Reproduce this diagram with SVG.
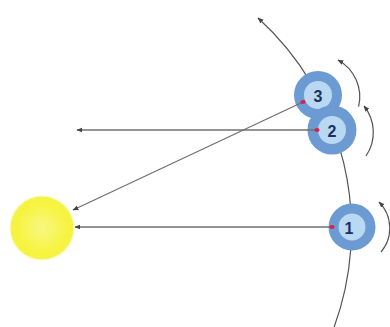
<svg xmlns="http://www.w3.org/2000/svg" width="390" height="327" viewBox="0 0 390 327">
  <defs>
    <marker id="arrow" viewBox="0 0 10 10" refX="9" refY="5" markerWidth="6" markerHeight="6" orient="auto" markerUnits="userSpaceOnUse">
      <path d="M0,1 L10,5 L0,9 Z" fill="#444"/>
    </marker>
    <radialGradient id="sunFill" cx="0.5" cy="0.5" r="0.5">
      <stop offset="0" stop-color="#f8f780"/>
      <stop offset="0.85" stop-color="#f6f43c"/>
      <stop offset="1" stop-color="#f4f250"/>
    </radialGradient>
    <style>
      .orbit { fill: none; stroke: #555; stroke-width: 1.2; }
      .spin { fill: none; stroke: #555; stroke-width: 1.2; marker-end: url(#arrow); }
      .ray { fill: none; stroke: #707070; stroke-width: 1.3; marker-end: url(#arrow); }
      .outer { fill: #6b9bd2; }
      .inner { fill: #b9d8f2; }
      .dot { fill: #d62050; }
      .num { font-family: "Liberation Sans", Arial, sans-serif; font-size: 16px; font-weight: bold; fill: #1d2f63; text-anchor: middle; dominant-baseline: central; }
    </style>
  </defs>

  <rect width="390" height="327" fill="#ffffff"/>

  <!-- orbit path of the planet -->
  <g id="orbit">
    <path class="orbit" marker-end="url(#arrow)" d="M333,330 A285,285 0 0 0 258,18"/>
  </g>

  <!-- sun -->
  <g id="sun">
    <circle cx="42" cy="228" r="33" fill="#fbfab8" opacity="0.6"/>
    <circle cx="42" cy="228" r="31.5" fill="url(#sunFill)"/>
  </g>

  <!-- planet positions -->
  <g id="planet3">
    <circle class="outer" cx="318" cy="95" r="24"/>
    <circle class="inner" cx="318" cy="95" r="14"/>
    <text class="num" x="318" y="96">3</text>
  </g>
  <g id="planet2">
    <circle class="outer" cx="332" cy="130" r="24.5"/>
    <circle class="inner" cx="332" cy="130" r="14"/>
    <text class="num" x="332" y="131">2</text>
  </g>
  <g id="planet1">
    <circle class="outer" cx="352" cy="227" r="23.5"/>
    <circle class="inner" cx="352" cy="227" r="13.5"/>
    <text class="num" x="349" y="228">1</text>
  </g>

  <!-- rays and rotation arrows -->
  <g id="connectors">
    <line class="ray" x1="332" y1="227" x2="75" y2="227"/>
    <line class="ray" x1="317" y1="130" x2="77" y2="130"/>
    <line class="ray" x1="303" y1="102" x2="73" y2="210"/>
    <path class="spin" d="M381,252 A37,37 0 0 0 379,202"/>
    <path class="spin" d="M366,156 A42,42 0 0 0 364,106"/>
    <path class="spin" d="M358.6,106.6 A42,42 0 0 0 338,60"/>
    <ellipse class="dot" cx="332" cy="227" rx="2.6" ry="2"/>
    <ellipse class="dot" cx="317" cy="130" rx="2.6" ry="2"/>
    <ellipse class="dot" cx="303" cy="102" rx="2.6" ry="2"/>
  </g>
</svg>
